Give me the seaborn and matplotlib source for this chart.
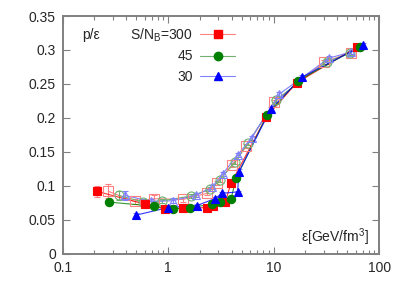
import matplotlib
matplotlib.use("Agg")
import matplotlib.pyplot as plt
import matplotlib.ticker as mticker
from matplotlib.lines import Line2D
import numpy as np
import pandas as pd
import seaborn as sns

# ── data ─────────────────────────────────────────────────────
# filled symbols
red_x = [0.21, 0.60, 0.94, 1.39, 2.34, 2.67, 3.47, 3.95, 8.5, 16.6, 61.7]
red_y = [0.092, 0.073, 0.066, 0.067, 0.068, 0.071, 0.076, 0.104, 0.201, 0.252, 0.304]
red_e = [0.008, 0.003, 0.002, 0.002, 0.002, 0.002, 0.002, 0.004, 0.003, 0.003, 0.003]

green_x = [0.276, 0.74, 1.12, 1.62, 2.6, 3.1, 3.95, 4.4, 8.7, 17.1, 66.0]
green_y = [0.076, 0.070, 0.066, 0.068, 0.073, 0.076, 0.081, 0.111, 0.205, 0.255, 0.305]
green_e = [0.004, 0.003, 0.002, 0.002, 0.002, 0.002, 0.002, 0.004, 0.003, 0.003, 0.003]

blue_x = [0.5, 1.0, 1.88, 2.75, 3.25, 4.55, 4.7, 9.4, 18.6, 70.5]
blue_y = [0.057, 0.068, 0.071, 0.081, 0.089, 0.091, 0.121, 0.213, 0.260, 0.307]
blue_e = [0.003, 0.002, 0.002, 0.002, 0.002, 0.002, 0.004, 0.003, 0.003, 0.003]

# open symbols
ored_x = [0.27, 0.48, 0.74, 1.39, 2.34, 2.9, 4.0, 5.5, 10.1, 30.0, 54.0]
ored_y = [0.092, 0.077, 0.081, 0.080, 0.089, 0.104, 0.130, 0.158, 0.223, 0.282, 0.296]
ored_e = [0.010, 0.004, 0.005, 0.004, 0.003, 0.003, 0.003, 0.003, 0.003, 0.003, 0.003]

ogreen_x = [0.34, 0.58, 0.88, 1.65, 2.5, 3.1, 4.3, 5.7, 10.6, 32.0, 53.0]
ogreen_y = [0.086, 0.076, 0.078, 0.085, 0.095, 0.109, 0.135, 0.163, 0.227, 0.283, 0.295]
ogreen_e = [0.007, 0.004, 0.003, 0.003, 0.003, 0.003, 0.003, 0.003, 0.003, 0.003, 0.003]

oblue_x = [0.39, 0.68, 1.1, 1.84, 2.6, 3.3, 4.6, 6.2, 11.3, 33.5, 54.0]
oblue_y = [0.086, 0.077, 0.078, 0.086, 0.098, 0.118, 0.146, 0.171, 0.235, 0.288, 0.297]
oblue_e = [0.007, 0.004, 0.004, 0.003, 0.003, 0.003, 0.003, 0.003, 0.003, 0.003, 0.003]

labels = ["S/N$_\\mathregular{B}$=300", "45", "30"]
y_ticks = [0, 0.05, 0.1, 0.15, 0.2, 0.25, 0.3, 0.35]
y_ticklabels = ["0", "0.05", "0.1", "0.15", "0.2", "0.25", "0.3", "0.35"]
x_ticks = [0.1, 1, 10, 100]
x_ticklabels = ["0.1", "1", "10", "100"]

# ── style ────────────────────────────────────────────────────
sns.set_style("ticks")
plt.rcParams["font.family"] = ["Liberation Sans", "DejaVu Sans"]
plt.rcParams["font.size"] = 10
plt.rcParams["mathtext.fontset"] = "custom"
plt.rcParams["mathtext.rm"] = "Liberation Sans"

RED, GREEN, BLUE = "#FF0000", "#008000", "#0000FF"
LRED, LGREEN, LBLUE = "#FF8080", "#70B070", "#8080FF"

fig = plt.figure(figsize=(4.02, 2.81), dpi=100)
ax = fig.add_axes([0.156, 0.097, 0.787, 0.846])


def draw(x, y, e, color, lcolor, marker, filled, ms):
    df = pd.DataFrame({"x": x, "y": y})
    ax.errorbar(x, y, yerr=e, fmt="none", ecolor=lcolor, elinewidth=0.8,
                capsize=2, capthick=0.8, zorder=2)
    sns.lineplot(data=df, x="x", y="y", ax=ax, sort=False, estimator=None,
                 color=lcolor if not filled else color, linewidth=0.8,
                 alpha=0.8 if filled else 1.0, zorder=2, legend=False)
    ax.plot(x, y, linestyle="none", marker=marker, markersize=ms,
            markerfacecolor=color if filled else "none",
            markeredgecolor=color if filled else lcolor,
            markeredgewidth=0.8, zorder=3 if filled else 2.5)


# open symbols first, filled on top
draw(ored_x, ored_y, ored_e, RED, LRED, "s", False, 6.5)
draw(ogreen_x, ogreen_y, ogreen_e, GREEN, LGREEN, "o", False, 6.5)
draw(oblue_x, oblue_y, oblue_e, BLUE, LBLUE, "^", False, 6.0)
draw(red_x, red_y, red_e, RED, LRED, "s", True, 6.0)
draw(green_x, green_y, green_e, GREEN, LGREEN, "o", True, 6.0)
draw(blue_x, blue_y, blue_e, BLUE, LBLUE, "^", True, 5.5)

ax.set_xscale("log")
ax.set_xlim(0.1, 100)
ax.set_ylim(0, 0.35)
ax.set_xticks(x_ticks)
ax.set_xticklabels(x_ticklabels)
ax.set_yticks(y_ticks)
ax.set_yticklabels(y_ticklabels)
ax.xaxis.set_minor_locator(mticker.LogLocator(base=10, subs=np.arange(2, 10)))
ax.xaxis.set_minor_formatter(mticker.NullFormatter())
ax.tick_params(which="both", direction="in", top=True, right=True,
               color="#808080", labelsize=10, pad=5)
ax.tick_params(which="major", length=5, width=0.8)
ax.tick_params(which="minor", length=3, width=0.8)
for s in ax.spines.values():
    s.set_color("#808080")
    s.set_linewidth(1.4)
ax.set_xlabel("")
ax.set_ylabel("")

ax.text(0.06, 0.92, "p/ε", transform=ax.transAxes, fontsize=10,
        ha="left", va="center")
ax.text(0.968, 0.07, "ε[GeV/fm$^\\mathregular{3}$]", transform=ax.transAxes,
        fontsize=10, ha="right", va="center")

# gnuplot-style key: one single-entry legend per row, right-aligned
handles = [
    Line2D([], [], color=LRED, marker="s", markersize=6, markerfacecolor=RED,
           markeredgecolor=RED, linewidth=0.8),
    Line2D([], [], color=LGREEN, marker="o", markersize=6, markerfacecolor=GREEN,
           markeredgecolor=GREEN, linewidth=0.8),
    Line2D([], [], color=LBLUE, marker="^", markersize=5.5, markerfacecolor=BLUE,
           markeredgecolor=BLUE, linewidth=0.8),
]
row_y = [0.920, 0.830, 0.745]
for i, (h, lab, yy) in enumerate(zip(handles, labels, row_y)):
    leg = ax.legend([h], [lab], loc="center right", bbox_to_anchor=(0.545, yy),
                    frameon=False, markerfirst=False, handlelength=2.5,
                    handletextpad=0.55, fontsize=10,
                    borderaxespad=0, borderpad=0)
    if i < len(handles) - 1:
        ax.add_artist(leg)

fig.savefig("out.png", dpi=100)
